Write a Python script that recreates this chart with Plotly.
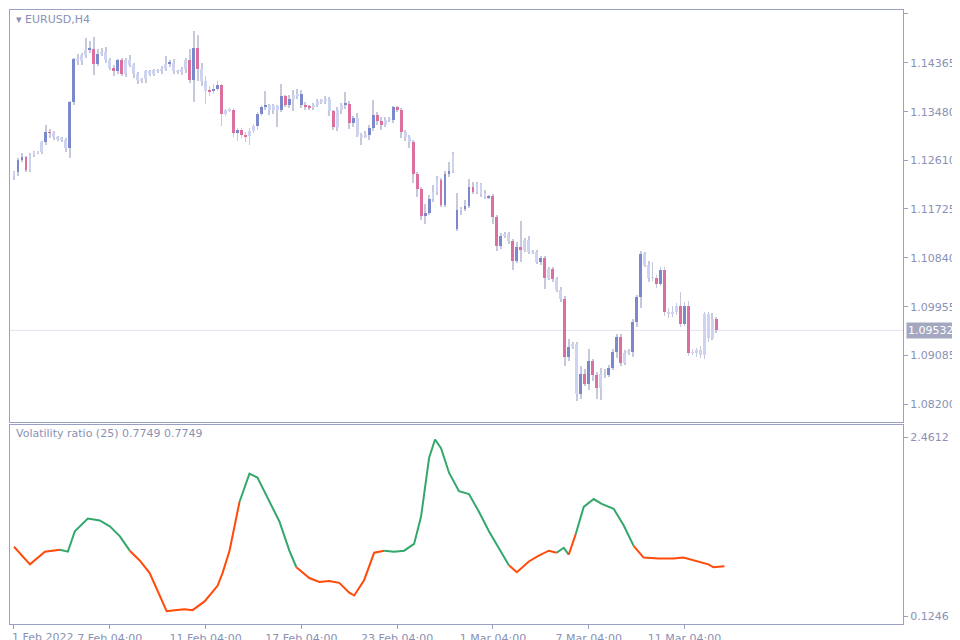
"""EURUSD H4 candles with a volatility ratio panel (MT-style look)."""

import plotly.graph_objects as go
from plotly.subplots import make_subplots

# Candle closes (EURUSD, H4)
closes = [
    1.1239, 1.1261, 1.1266, 1.1243, 1.1270, 1.1275, 1.1275, 1.1293, 1.1311, 1.1310,
    1.1302, 1.1300, 1.1298, 1.1282, 1.1365, 1.1444, 1.1439, 1.1450, 1.1460, 1.1462,
    1.1435, 1.1453, 1.1457, 1.1441, 1.1428, 1.1421, 1.1441, 1.1417, 1.1442, 1.1433,
    1.1417, 1.1405, 1.1408, 1.1421, 1.1417, 1.1423, 1.1422, 1.1426, 1.1435, 1.1437,
    1.1421, 1.1420, 1.1426, 1.1442, 1.1405, 1.1464, 1.1426, 1.1403, 1.1385, 1.1387,
    1.1390, 1.1396, 1.1345, 1.1352, 1.1351, 1.1309, 1.1315, 1.1307, 1.1304, 1.1313,
    1.1322, 1.1345, 1.1356, 1.1360, 1.1351, 1.1358, 1.1351, 1.1376, 1.1361, 1.1372,
    1.1378, 1.1381, 1.1361, 1.1358, 1.1356, 1.1361, 1.1367, 1.1369, 1.1372, 1.1349,
    1.1320, 1.1352, 1.1361, 1.1363, 1.1327, 1.1336, 1.1306, 1.1304, 1.1307, 1.1318,
    1.1342, 1.1331, 1.1324, 1.1334, 1.1334, 1.1356, 1.1351, 1.1311, 1.1302, 1.1293,
    1.1235, 1.1208, 1.1160, 1.1165, 1.1190, 1.1203, 1.1225, 1.1180, 1.1235, 1.1241,
    1.1271,
    1.1171, 1.1172, 1.1178, 1.1212, 1.1203, 1.1217, 1.1199, 1.1194, 1.1196, 1.1158,
    1.1106, 1.1124, 1.1127, 1.1115, 1.1079, 1.1104, 1.1099, 1.1117, 1.1095, 1.1095,
    1.1077, 1.1084, 1.1048, 1.1064, 1.1046, 1.1027, 1.1010, 1.0906, 1.0924, 1.0928,
    1.0839, 1.0875, 1.0856, 1.0897, 1.0872, 1.0850, 1.0874, 1.0873, 1.0886, 1.0915,
    1.0942, 1.0895, 1.0913, 1.0915, 1.0969, 1.1014, 1.1091, 1.1072, 1.1048, 1.1048,
    1.1037, 1.1063, 1.0987, 1.0982, 1.0987, 1.0998, 1.0965, 1.0998, 1.0913, 1.0914,
    1.0917, 1.0908, 1.0982, 1.0940, 1.0974, 1.0953,
]
first_open = 1.1232
gap_opens = {111: 1.1136}  # weekend gap

# wick lengths in pips above / below the body
upper_pips = [
    3, 4, 8, 2, 3, 3, 2, 3, 14, 6, 4, 3, 2, 2, 2, 2, 8, 4, 22, 14,
    22, 8, 6, 8, 5, 4, 3, 4, 3, 8, 3, 3, 2, 3, 2, 3, 2, 4, 14, 4,
    6, 3, 3, 3, 20, 30, 22, 10, 10, 8, 8, 8, 3, 2, 3, 4, 3, 3, 4, 5,
    4, 3, 4, 26, 3, 4, 3, 22, 2, 6, 10, 8, 6, 4, 3, 3, 4, 3, 4, 3,
    3, 4, 3, 20, 4, 4, 10, 4, 6, 6, 28, 6, 8, 4, 4, 3, 3, 4, 4, 4,
    4, 4, 4, 16, 8, 12, 8, 4, 6, 16, 4,
    30, 4, 10, 14, 10, 4, 2, 8, 2, 4, 4, 6, 4, 4, 4, 8, 46, 4, 6, 4,
    4, 4, 4, 4, 4, 4, 4, 6, 14, 4, 4, 14, 8, 22, 4, 6, 12, 10, 4, 4,
    4, 4, 4, 4, 4, 4, 6, 4, 6, 28, 6, 4, 4, 6, 10, 4, 24, 6, 8, 6,
    4, 8, 4, 4, 10, 4,
]
lower_pips = [
    8, 6, 4, 4, 3, 3, 3, 3, 4, 10, 4, 4, 4, 6, 18, 4, 6, 6, 4, 6,
    20, 4, 4, 4, 4, 8, 4, 4, 6, 4, 8, 6, 4, 8, 4, 4, 4, 6, 4, 6,
    4, 4, 6, 8, 4, 40, 22, 8, 22, 8, 6, 4, 22, 4, 4, 6, 14, 6, 10, 16,
    4, 6, 4, 4, 8, 6, 30, 4, 4, 6, 22, 6, 6, 6, 4, 4, 4, 4, 6, 8,
    4, 6, 8, 8, 10, 6, 4, 16, 4, 10, 4, 6, 8, 4, 4, 6, 4, 10, 6, 10,
    16, 14, 8, 14, 4, 4, 6, 4, 4, 4, 4,
    4, 10, 4, 4, 4, 4, 4, 4, 4, 12, 10, 6, 4, 6, 16, 4, 22, 4, 4, 4,
    4, 6, 20, 4, 6, 4, 6, 18, 8, 4, 14, 10, 4, 10, 10, 20, 22, 6, 4, 4,
    12, 6, 4, 4, 10, 10, 20, 4, 8, 6, 8, 4, 8, 6, 4, 6, 6, 4, 6, 4,
    8, 4, 6, 8, 4, 4,
]
# b = strong up, p = strong down, l = quiet
candle_kind = (
    "lbbpllllbp" "llllbblllb" "pblllpbpll" "lllllllllb" "llllpbpllp"
    "bbpllpbppl" "lbbblllbpb" "llbpplllll" "pllbpblllb" "bppllbppll"
    "pppbbllpbbl" "blbbplllbp" "pbllpbplll" "lbplpllpbl" "lbpbppllbb"
    "bpllbbblll" "pbplllpbpl" "lllllp"
)

# Volatility ratio (25): sample positions (candle index) and values
vr_x = [0, 4, 7.75, 11.5, 13.5, 15.25, 18.5, 21.5, 24, 26.5, 29, 31.5, 34, 36.5,
        38.25, 40.25, 42.75, 44.75, 47.75, 51, 52.25, 54, 56.5, 59, 61, 63.5, 66.5,
        69, 70.75, 74, 76.5, 79, 81.5, 84, 85.25, 87.75, 90.25, 92.75, 95.25, 97.75,
        100.25, 102, 104, 105.5, 107, 109, 111.5, 114, 116.5, 119, 121.5, 124, 126,
        129, 131.5, 134, 136, 137.75, 139, 140.75, 142.75, 145.25, 147.25, 150.25,
        152.75, 155.25, 157.75, 161.5, 165.25, 167.75, 170.25, 174, 175.25, 178]
vr_values = [1.031, 0.801, 0.967, 0.992, 0.967, 1.235, 1.401, 1.376, 1.299, 1.171,
             0.980, 0.852, 0.686, 0.405, 0.188, 0.201, 0.214, 0.201, 0.316, 0.520,
             0.686, 0.980, 1.618, 1.989, 1.937, 1.682, 1.363, 0.980, 0.763, 0.622,
             0.571, 0.584, 0.559, 0.431, 0.393, 0.597, 0.954, 0.980, 0.967, 0.980,
             1.069, 1.427, 2.193, 2.436, 2.321, 2.001, 1.759, 1.721, 1.490, 1.235,
             1.018, 0.788, 0.699, 0.839, 0.916, 0.980, 0.954, 1.018, 0.929, 1.197,
             1.554, 1.656, 1.593, 1.529, 1.312, 1.044, 0.890, 0.878, 0.878, 0.890,
             0.852, 0.801, 0.763, 0.775]
# G = rising/high-volatility segment, O = falling segment (colour of segment starting at point)
vr_state = ("OOOGGGGGGGOOOOOOOOOOOOGGGGGGOOOOOOOOOGGGGGGGGGGGGGGOOOOOGGOGGGGGGOOOOOOOOO")

price_ticks = [1.15250, 1.14365, 1.13480, 1.12610, 1.11725, 1.10840, 1.09955, 1.09085, 1.08200]
date_ticks = [0, 24, 48, 72, 96, 120, 144, 168]
date_labels = ["1 Feb 2022", "7 Feb 04:00", "11 Feb 04:00", "17 Feb 04:00",
               "23 Feb 04:00", "1 Mar 04:00", "7 Mar 04:00", "11 Mar 04:00"]
last_price = 1.09532

KIND_COLORS = {"b": "#7b88cc", "p": "#dd6f9f", "l": "#cdd3f0"}
WICK_COLOR = "#c6c8dc"
FRAME_COLOR = "#9aa0c4"
TEXT_COLOR = "#8a91b4"
GREEN = "#33a86a"
ORANGE = "#ff4a0a"

opens = [first_open] + closes[:-1]
for idx, val in gap_opens.items():
    opens[idx] = val

idx_list = list(range(len(closes)))
tops = [max(o, c) for o, c in zip(opens, closes)]
bots = [min(o, c) for o, c in zip(opens, closes)]
highs = [t + u * 0.0001 for t, u in zip(tops, upper_pips)]
lows = [b - d * 0.0001 for b, d in zip(bots, lower_pips)]

fig = make_subplots(rows=2, cols=1, shared_xaxes=True, vertical_spacing=0.005,
                    row_heights=[0.675, 0.325])

# wicks as thin bars so the bodies sit on top
fig.add_trace(go.Bar(
    x=idx_list, base=lows, y=[h - lo for h, lo in zip(highs, lows)], width=0.22,
    marker=dict(color=WICK_COLOR, line_width=0), hoverinfo="skip", showlegend=False,
), row=1, col=1)
fig.add_trace(go.Bar(
    x=idx_list, base=bots, y=[max(t - b, 0.00009) for t, b in zip(tops, bots)],
    width=0.72, marker=dict(color=[KIND_COLORS[k] for k in candle_kind], line_width=0),
    showlegend=False,
), row=1, col=1)

fig.add_hline(y=last_price, line=dict(color="#e4e4f2", width=1), layer="below",
              row=1, col=1)

# volatility line, split into coloured runs
start = 0
for j in range(1, len(vr_x)):
    end_run = j == len(vr_x) - 1 or vr_state[j] != vr_state[start]
    if end_run:
        fig.add_trace(go.Scatter(
            x=vr_x[start:j + 1], y=vr_values[start:j + 1], mode="lines",
            line=dict(color=GREEN if vr_state[start] == "G" else ORANGE, width=2),
            showlegend=False,
        ), row=2, col=1)
        start = j

axis_font = dict(family="DejaVu Sans", size=11, color=TEXT_COLOR)
fig.update_xaxes(range=[-1, 222.75], showgrid=False, zeroline=False, showline=True,
                 mirror=True, linecolor=FRAME_COLOR, linewidth=1, automargin=False)
fig.update_xaxes(tickvals=date_ticks, ticktext=[""] + date_labels[1:], ticks="outside",
                 ticklen=4, tickcolor=FRAME_COLOR, tickfont=axis_font, row=2, col=1)
fig.update_xaxes(showticklabels=False, row=1, col=1)
fig.update_yaxes(side="right", showgrid=False, zeroline=False, showline=True, mirror=True,
                 linecolor=FRAME_COLOR, linewidth=1, ticks="outside", ticklen=4,
                 tickcolor=FRAME_COLOR, tickfont=axis_font, automargin=False)
fig.update_yaxes(range=[1.0787, 1.1532], tickvals=price_ticks,
                 ticktext=[f"{v:.5f}" for v in price_ticks], row=1, col=1)
fig.update_yaxes(range=[0.02, 2.62], tickvals=[0.1246, 2.4612],
                 ticktext=["0.1246", "2.4612"], row=2, col=1)

fig.add_annotation(xref="x2", yref="paper", x=-1, y=0, yshift=-5, text=date_labels[0],
                   showarrow=False, xanchor="left", yanchor="top", font=axis_font)
fig.add_annotation(xref="paper", yref="y", x=1.003, y=last_price, text=f"{last_price:.5f}",
                   showarrow=False, xanchor="left", bgcolor="#a3a7bf",
                   font=dict(family="DejaVu Sans", size=11, color="white"), borderpad=1)
fig.add_annotation(xref="paper", yref="paper", x=0.004, y=0.999, text="▾ EURUSD,H4",
                   showarrow=False, xanchor="left", yanchor="top",
                   font=dict(family="DejaVu Sans", size=11, color=TEXT_COLOR))
fig.add_annotation(xref="paper", yref="paper", x=0.004, y=0.324,
                   text="Volatility ratio (25) 0.7749 0.7749", showarrow=False,
                   xanchor="left", yanchor="top",
                   font=dict(family="DejaVu Sans", size=11, color=TEXT_COLOR))

fig.update_layout(
    width=960, height=640, plot_bgcolor="white", paper_bgcolor="white",
    margin=dict(l=2, r=65, t=2, b=24, autoexpand=False), barmode="overlay",
    bargap=0, showlegend=False,
)

fig.write_html("out.html")
